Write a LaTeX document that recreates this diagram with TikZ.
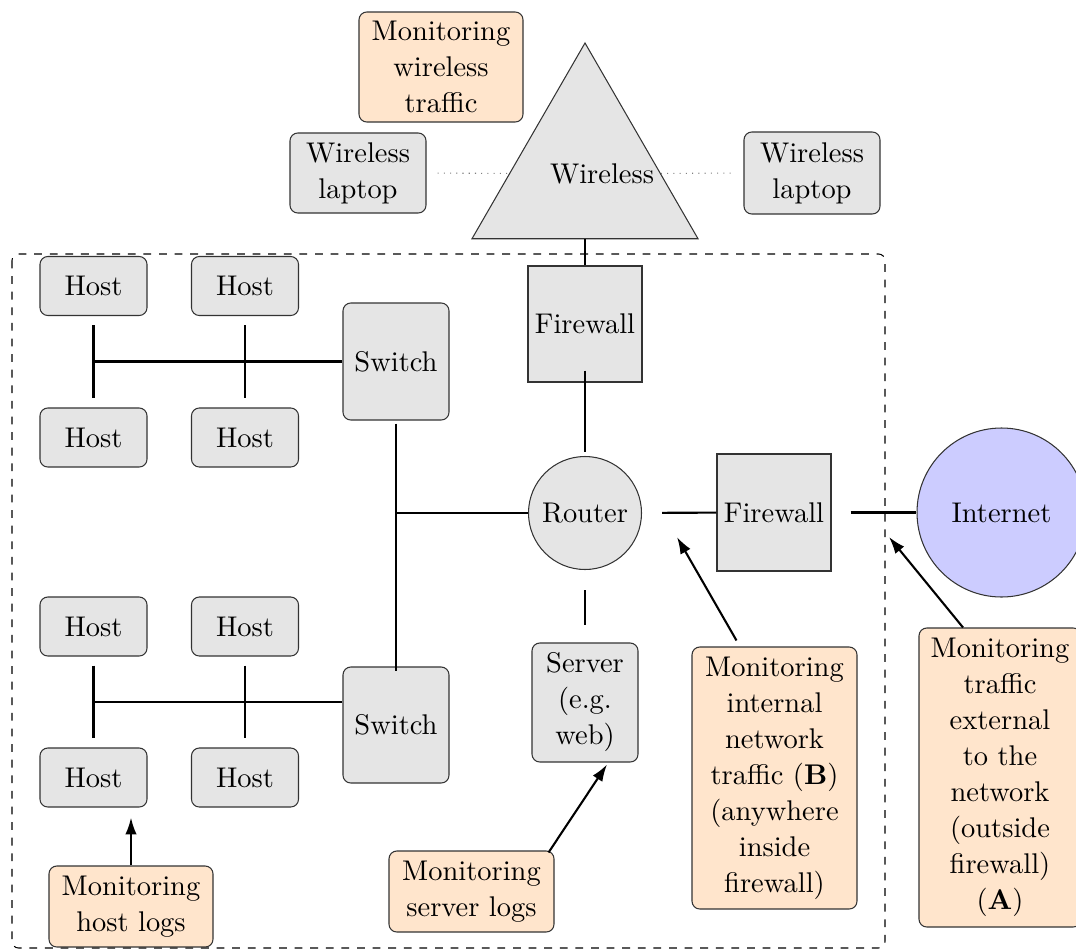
\documentclass[tikz,border=0pt]{standalone}
\usetikzlibrary{shapes.geometric,arrows.meta,calc}
\newdimen\px
\px=0.3846pt
\begin{document}
\begin{tikzpicture}[x=0.3846pt,y=-0.3846pt,
  font=\fontsize{10.95}{13.85}\selectfont,
  every node/.style={align=center, inner sep=0pt},
  dev/.style={draw=black!80, fill=gray!20, rounded corners=3pt},
  mon/.style={draw=black!80, fill=orange!20, rounded corners=3pt},
  fwbox/.style={draw=black!80, fill=gray!20, rectangle},
  hostbox/.style={dev, minimum width=107\px, minimum height=59\px},
  link/.style={thick},
  radio/.style={gray, dotted},
  arr/.style={thick, -{Latex[length=6.5pt,width=4.4pt]}},
]
\useasboundingbox (0,0) rectangle (1076,949);

% internal network boundary
\draw[dashed, rounded corners=2.5pt] (12,254) rectangle (885,948);

% wireless part
\node[mon, minimum width=164\px, minimum height=110\px] (mw) at (441,67) {Monitoring\\wireless\\traffic};
\node[dev, minimum width=136\px, minimum height=80\px] (lapL) at (358,173) {Wireless\\laptop};
\node[dev, minimum width=136\px, minimum height=82\px] (lapR) at (812,173) {Wireless\\laptop};
\node[regular polygon, regular polygon sides=3, minimum size=261\px,
      draw=black!80, fill=gray!20,
      label={[xshift=17\px]center:Wireless}] (ap) at (585,173.5) {};

% core devices
\node[fwbox, minimum width=114\px, minimum height=116\px] (fw1) at (585,324) {Firewall};
\node[circle, draw=black!80, fill=gray!20, minimum size=113\px] (router) at (585,513) {Router};
\node[fwbox, minimum width=114\px, minimum height=117\px] (fw2) at (774,512.5) {Firewall};
\node[circle, draw=black!80, fill=blue!20, minimum size=169\px] (inet) at (1001.5,512.5) {Internet};
\node[dev, minimum width=106\px, minimum height=119\px] (srv) at (585,702.5) {Server\\(e.g.\\web)};

% switches and hosts
\node[dev, minimum width=106\px, minimum height=117\px] (sw1) at (396,361.5) {Switch};
\node[dev, minimum width=106\px, minimum height=116\px] (sw2) at (396,725) {Switch};
\node[hostbox] (h1) at (93.5,286) {Host};
\node[hostbox] (h2) at (245,286) {Host};
\node[hostbox] (h3) at (93.5,437.5) {Host};
\node[hostbox] (h4) at (245,437.5) {Host};
\node[hostbox] (h5) at (93.5,626.5) {Host};
\node[hostbox] (h6) at (245,626.5) {Host};
\node[hostbox] (h7) at (93.5,777.5) {Host};
\node[hostbox] (h8) at (245,777.5) {Host};

% monitoring notes
\node[mon, minimum width=164\px, minimum height=81\px] (hl) at (131,906.5) {Monitoring\\host logs};
\node[mon, minimum width=165\px, minimum height=81\px] (sl) at (471.5,891.5) {Monitoring\\server logs};
\node[mon, minimum width=165\px, minimum height=262\px] (mB) at (774.5,778)
  {Monitoring\\internal\\network\\traffic (\textbf{B})\\(anywhere\\inside\\firewall)};
\node[mon, minimum width=162\px, minimum height=299\px] (mA) at (1000,777.5)
  {Monitoring\\traffic\\external\\to the\\network\\(outside\\firewall)\\(\textbf{A})};

% wireless links
\draw[radio, shorten <=11\px] (lapL) -- (ap);
\draw[radio, shorten >=12\px] (ap) -- (lapR);
\draw[link] (ap) -- (fw1);

% backbone
\draw[link, shorten <=-12\px, shorten >=4\px] (fw1) -- (router);
\draw[link, shorten <=20\px] (router) -- (fw2);
\draw[link, shorten <=19\px] (fw2) -- (inet);
\draw[link, shorten <=20\px, shorten >=17\px] (router) -- (srv);
\draw[link, shorten <=3\px, shorten >=-5\px] (sw1) -- (sw2);
\draw[link] (sw1.south |- router.west) -- (router.west);

% upper host group
\draw[link, shorten <=9\px, shorten >=9\px] (h1) -- (h3);
\draw[link, shorten <=9\px, shorten >=9\px] (h2) -- (h4);
\draw[link] (h1.south |- sw1.west) -- (sw1.west);

% lower host group
\coordinate (busB) at ($(h5.south)!0.5!(h7.north)$);
\draw[link, shorten <=9\px, shorten >=9\px] (h5) -- (h7);
\draw[link, shorten <=9\px, shorten >=9\px] (h6) -- (h8);
\draw[link] (busB) -- (busB -| sw2.west);

% monitoring points
\coordinate (tapB) at (677,537);
\coordinate (tapA) at (889,537);
\draw[arr, shorten >=10\px] (hl.north) -- (hl.north |- h7.south);
\draw[arr] ([xshift=-6\px,yshift=-2\px]sl.north east) -- ([xshift=22\px,yshift=-2\px]srv.south);
\draw[arr] ([xshift=-38\px,yshift=6\px]mB.north) -- (tapB);
\draw[arr] ([xshift=-37\px]mA.north) -- (tapA);
\end{tikzpicture}
\end{document}
